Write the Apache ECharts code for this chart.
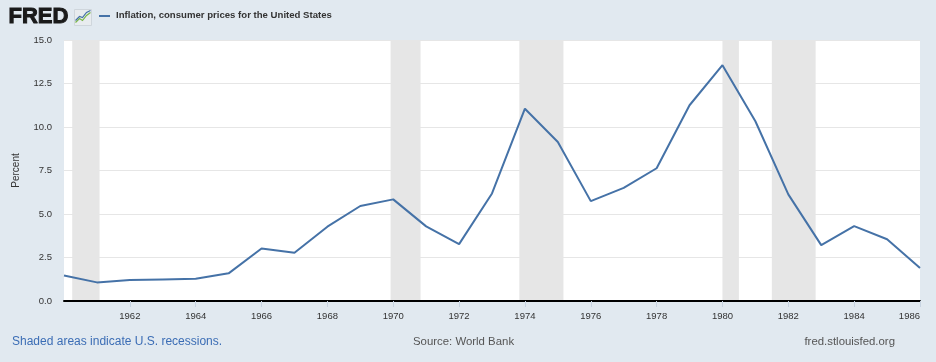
<!DOCTYPE html>
<html><head><meta charset="utf-8">
<script src="https://cdn.jsdelivr.net/npm/echarts@6/dist/echarts.min.js"></script>
<style>html,body{margin:0;padding:0;background:#e1e9f0;}#c{width:936px;height:362px;}</style>
</head><body><div id="c"></div>
<script>
const years = [1960,1961,1962,1963,1964,1965,1966,1967,1968,1969,1970,1971,1972,1973,1974,1975,1976,1977,1978,1979,1980,1981,1982,1983,1984,1985,1986];
const inflation = [1.46,1.07,1.20,1.24,1.28,1.59,3.02,2.77,4.27,5.46,5.84,4.29,3.27,6.18,11.05,9.14,5.74,6.50,7.63,11.25,13.55,10.33,6.13,3.21,4.30,3.55,1.90];
const recessionStarts = [1960.25, 1969.92, 1973.83, 1980.0, 1981.5];
const recessionEnds = [1961.08, 1970.83, 1975.17, 1980.5, 1982.83];
const seriesName = 'Inflation, consumer prices for the United States';

const F = '"Liberation Sans", Arial, sans-serif';
const chart = echarts.init(document.getElementById('c'), null, {renderer:'canvas'});
chart.setOption({
  backgroundColor: '#e1e9f0',
  animation: false,
  grid: {left: 64, right: 16, top: 40, bottom: 61, containLabel: false, backgroundColor:'#ffffff', show:true, borderWidth:0},
  xAxis: {
    type: 'value', min: 1960, max: 1986, interval: 2, z: 10,
    axisLine: {show: true, lineStyle: {color: '#000', width: 2}},
    axisTick: {show: true, length: 6, lineStyle: {color: '#c8d4e2'}},
    axisLabel: {color: '#333', fontSize: 9.5, fontFamily: F, margin: 10, showMinLabel: false,
      alignMaxLabel: 'right', formatter: v => String(v)},
    splitLine: {show: false}
  },
  yAxis: {
    type: 'value', min: 0, max: 15, interval: 2.5,
    name: 'Percent', nameLocation: 'middle', nameGap: 43, nameRotate: 90,
    nameTextStyle: {color: '#333', fontSize: 10, fontFamily: F},
    axisLine: {show: false}, axisTick: {show: false},
    axisLabel: {color: '#333', fontSize: 9.5, fontFamily: F, margin: 12, formatter: v => v.toFixed(1)},
    splitLine: {show: true, lineStyle: {color: '#e6e6e6', width: 1}}
  },
  series: [{
    type: 'line', name: seriesName,
    data: years.map((y, i) => [y, inflation[i]]),
    showSymbol: false, symbol: 'none',
    lineStyle: {color: '#4572a7', width: 2},
    z: 3,
    markArea: {
      silent: true,
      itemStyle: {color: '#e6e6e6'},
      data: recessionStarts.map((s, i) => [{xAxis: s}, {xAxis: recessionEnds[i]}])
    }
  }],
  graphic: [
    {type: 'text', left: 8, top: 5, style: {text: 'FRED', font: '900 22px ' + F, fill: '#1a1a1a', stroke: '#1a1a1a', lineWidth: 1}},
    {type: 'group', left: 73, top: 8, children: [
      {type: 'rect', shape: {x: 0, y: 0, width: 17, height: 16}, style: {fill: '#e8ecef', stroke: '#cfd6dc'}},
      {type: 'polyline', shape: {points: [[1,13],[5,9],[8,11],[12,6],[16,3]]}, style: {stroke: '#7ab648', lineWidth: 1.2, fill: null}},
      {type: 'polyline', shape: {points: [[1,11],[5,7],[8,8],[12,3],[16,1]]}, style: {stroke: '#4572a7', lineWidth: 1.2, fill: null}}
    ]},
    {type: 'line', shape: {x1: 99, y1: 16, x2: 110, y2: 16}, style: {stroke: '#4572a7', lineWidth: 2}},
    {type: 'text', left: 116, top: 10, style: {text: seriesName, font: 'bold 9.6px ' + F, fill: '#333'}},
    {type: 'text', left: 12, top: 336, style: {text: 'Shaded areas indicate U.S. recessions.', font: '12px ' + F, fill: '#3b6db5'}},
    {type: 'text', left: 413, top: 336, style: {text: 'Source: World Bank', font: '11.4px ' + F, fill: '#555'}},
    {type: 'text', right: 41, top: 336, style: {text: 'fred.stlouisfed.org', font: '11.4px ' + F, fill: '#555'}}
  ]
});
</script></body></html>
